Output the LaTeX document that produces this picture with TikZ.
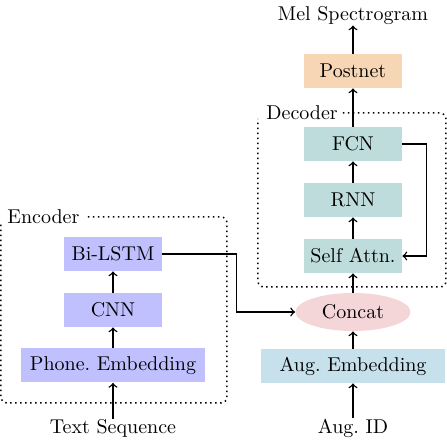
\documentclass[tikz,border=0pt]{standalone}
\usetikzlibrary{shapes.geometric}
\definecolor{enccol}{RGB}{192,192,255}
\definecolor{deccol}{RGB}{191,220,220}
\definecolor{postcol}{RGB}{246,214,180}
\definecolor{catcol}{RGB}{245,214,216}
\definecolor{augcol}{RGB}{198,224,236}
\tikzset{
  blk/.style={draw=none, minimum width=49pt, minimum height=17pt, inner sep=0pt},
  wideblk/.style={blk, minimum width=92pt},
  lbl/.style={inner sep=0pt},
  arr/.style={->, line width=0.7pt},
  frame/.style={line width=0.75pt, dash pattern=on 0.75pt off 1.75pt, rounded corners=3pt}
}
\begin{document}
\begin{tikzpicture}[x=0.5pt, y=-0.5pt]
\useasboundingbox (0,0) rectangle (447,443);
% encoder
\node[blk, fill=enccol] (bilstm) at (113,254) {Bi-LSTM};
\node[blk, fill=enccol] (cnn) at (113,310) {CNN};
\node[wideblk, fill=enccol] (phone) at (113,365.5) {Phone.\ Embedding};
\node[lbl] (text) at (113,428) {Text Sequence};
\node[lbl, anchor=west] (enclbl) at (7,217) {Encoder};
\draw[frame] (88,217) -- (227,217) -- (227,403) -- (1,403) -- (1,222);
% decoder
\node[lbl] (mel) at (353,16) {Mel Spectrogram};
\node[blk, fill=postcol] (post) at (353,71) {Postnet};
\node[blk, fill=deccol] (fcn) at (353,144) {FCN};
\node[blk, fill=deccol] (rnn) at (353,200) {RNN};
\node[blk, fill=deccol] (self) at (353,256) {Self Attn.};
\node[ellipse, fill=catcol, minimum width=57.5pt, minimum height=19pt, inner sep=0pt] (cat) at (353,312) {Concat};
\node[wideblk, fill=augcol] (aug) at (353,366) {Aug.\ Embedding};
\node[lbl] (augid) at (353,428) {Aug.\ ID};
\node[lbl, anchor=west] (declbl) at (266,113) {Decoder};
\draw[frame] (343,113) -- (446,113) -- (446,287) -- (258,287) -- (258,119);
% arrows
\draw[arr] (text) -- (phone);
\draw[arr] (phone) -- (cnn);
\draw[arr] (cnn) -- (bilstm);
\draw[arr] (augid) -- (aug);
\draw[arr] (aug) -- (cat);
\draw[arr] (cat) -- (self);
\draw[arr] (self) -- (rnn);
\draw[arr] (rnn) -- (fcn);
\draw[arr] (fcn) -- (post);
\draw[arr] (post) -- (mel);
\draw[arr] (bilstm.east) -- ++(74,0) |- (cat.west);
\draw[arr] (fcn.east) -- ++(24,0) |- (self.east);
\end{tikzpicture}
\end{document}
